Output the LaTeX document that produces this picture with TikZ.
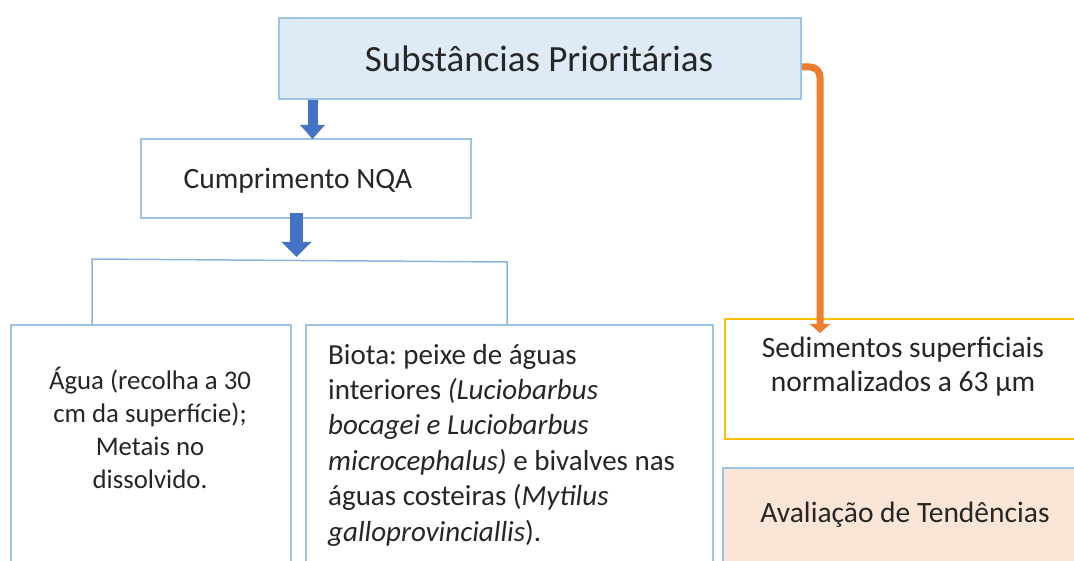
\documentclass[tikz,border=0pt]{standalone}
\usepackage{fontspec}
\setmainfont{Carlito}
\usetikzlibrary{arrows.meta}
\definecolor{boxline}{HTML}{9DC3E6}
\definecolor{topfill}{HTML}{DEEBF7}
\definecolor{arrblue}{HTML}{4472C4}
\definecolor{arrorange}{HTML}{ED7D31}
\definecolor{gold}{HTML}{FFC000}
\definecolor{peach}{HTML}{FBE5D6}
\definecolor{txt}{HTML}{262626}
\frenchspacing
\tikzset{
  boxnode/.style={draw=boxline, line width=2pt, rectangle, inner sep=0pt, anchor=north west},
  label/.style={text=txt, inner sep=0pt},
  bluearrowA/.style={draw=arrblue, line width=10pt, -{Triangle[width=24pt,length=14pt]}},
  bluearrowB/.style={draw=arrblue, line width=13pt, -{Triangle[width=29pt,length=15pt]}},
  orangearrow/.style={draw=arrorange, line width=7pt, rounded corners=10pt, -{Triangle[width=20pt,length=9pt]}},
  bracketline/.style={draw=boxline!80!arrblue, line width=1.5pt},
}
\begin{document}
\begin{tikzpicture}[x=1pt,y=-1pt]
\clip (0,0) rectangle (1074,561);
\fill[white] (0,0) rectangle (1074,561);
% boxes
\node[boxnode, fill=topfill, minimum width=522pt, minimum height=81pt] (top) at (278,17) {};
\node[boxnode, fill=white, minimum width=330pt, minimum height=79pt] (nqa) at (140,138) {};
\node[boxnode, fill=white, minimum width=280pt, minimum height=300pt] (left) at (10,324) {};
\node[boxnode, fill=white, minimum width=407pt, minimum height=300pt] (mid) at (305,324) {};
\node[boxnode, draw=gold, fill=white, minimum width=400pt, minimum height=120pt] (sed) at (724,318) {};
\node[boxnode, fill=peach, minimum width=400pt, minimum height=150pt] (aval) at (722,467) {};
% texts
\node[label, font=\fontsize{37}{44}\selectfont] (ttop) at (539,59) {Substâncias Prioritárias};
\node[label, font=\fontsize{29.5}{35}\selectfont] (tnqa) at (298,181) {Cumprimento NQA};
\node[label, font=\fontsize{26.8}{33}\selectfont, align=center] (tleft) at (150,428) {Água (recolha a 30\\cm da superfície);\\Metais no\\dissolvido.};
\node[label, font=\fontsize{29}{35.4}\selectfont, align=left, anchor=west] (tmid) at (328,445) {Biota: peixe de águas\\interiores \textit{(Luciobarbus}\\\textit{bocagei e Luciobarbus}\\\textit{microcephalus)} e bivalves nas\\águas costeiras (\textit{Mytilus}\\\textit{galloprovinciallis}).};
\node[label, font=\fontsize{29.5}{34}\selectfont, align=center] (tsed) at (903,367) {Sedimentos superficiais\\normalizados a 63 µm};
\node[label, font=\fontsize{29.5}{35}\selectfont] (taval) at (905,515) {Avaliação de Tendências};
% connectors
\coordinate (a1) at (312.5,0);
\coordinate (a2) at (296.5,0);
\draw[bluearrowA] (a1 |- top.south) -- ([yshift=-1pt]a1 |- nqa.north);
\draw[bluearrowB] ([yshift=6pt]a2 |- nqa.south) -- (296.5,257);
\coordinate (bl) at (92,259);
\coordinate (br) at (507,262);
\draw[bracketline] (bl |- left.north) -- (bl) -- (br) -- (br |- mid.north);
\coordinate (oc) at (820,67);
\draw[orangearrow] (top.east |- oc) -- (oc) -- ([yshift=-15pt]oc |- sed.north);
\end{tikzpicture}
\end{document}
